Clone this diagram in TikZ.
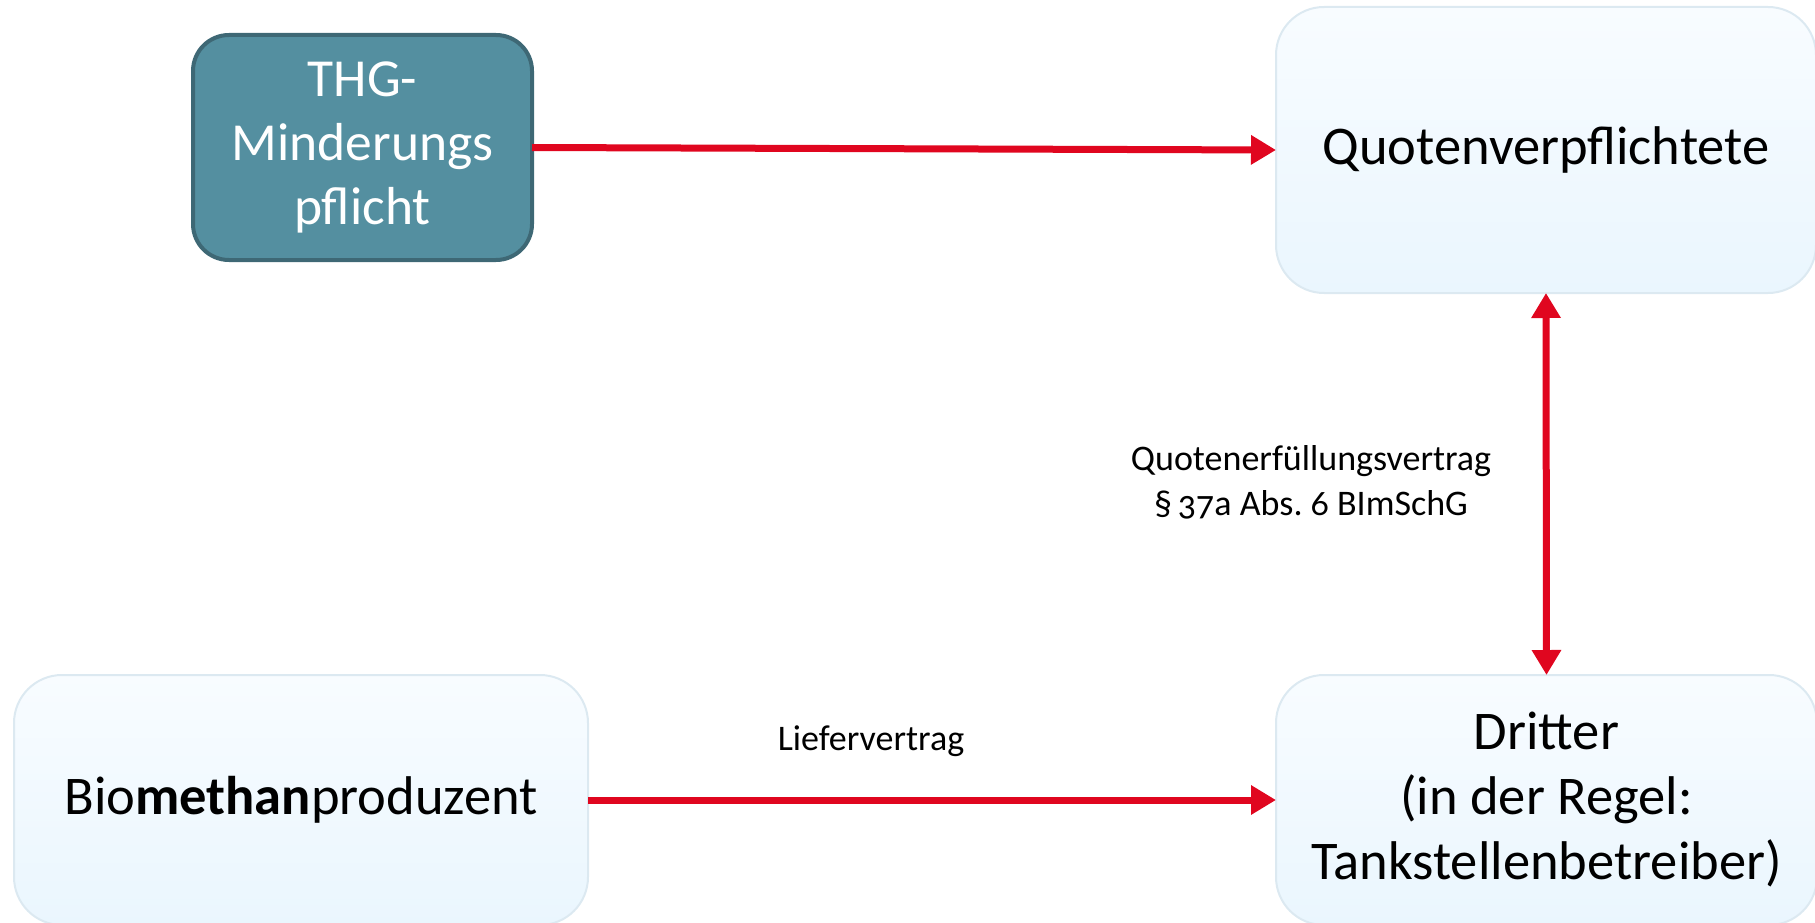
\documentclass[tikz,border=0pt]{standalone}
\usepackage{fontspec}
\setmainfont{Carlito}
\newfontfamily\labelfont[Numbers=OldStyle]{Carlito}
\usetikzlibrary{arrows.meta}
\frenchspacing

\definecolor{flowred}{HTML}{E0061F}
\definecolor{tealfill}{HTML}{548FA0}
\definecolor{tealedge}{HTML}{3E6875}
\definecolor{paleedge}{HTML}{DCE9F1}
\definecolor{paletop}{HTML}{F8FCFF}
\definecolor{palebottom}{HTML}{EAF6FE}

\tikzset{
  darkbox/.style={draw=tealedge, line width=4pt, fill=tealfill, rounded corners=36pt,
    inner sep=0pt, outer sep=0pt, align=center, text=white,
    font=\fontsize{53.5}{64}\selectfont},
  palebox/.style={draw=paleedge, line width=2pt, top color=paletop, bottom color=palebottom,
    rounded corners=48pt, inner sep=0pt, outer sep=0pt, align=center,
    font=\fontsize{54.5}{65}\selectfont},
  flow/.style={draw=flowred, line width=7pt, -{Triangle[length=25pt,width=28pt]}},
  twoway/.style={draw=flowred, line width=7pt,
    {Triangle[length=25pt,width=28pt]}-{Triangle[length=25pt,width=28pt]}},
  note/.style={inner sep=0pt, align=center, font=\labelfont\fontsize{36}{45}\selectfont}
}

\begin{document}
\begin{tikzpicture}[x=1pt, y=-1pt]
  \useasboundingbox (0,0) rectangle (1815,923);
  \clip (0,0) rectangle (1815,923);

  % boxes
  \node[darkbox, minimum width=339pt, minimum height=225pt] (thg) at (362.5,147.5)
    {THG-\\Minderungs\\pflicht};
  \node[palebox, minimum width=540pt, minimum height=286pt] (quote) at (1546,150)
    {Quotenverpflichtete};
  \node[palebox, minimum width=541pt, minimum height=250pt] (third) at (1546.5,800)
    {Dritter\\(in der Regel:\\Tankstellenbetreiber)};
  \node[palebox, minimum width=574pt, minimum height=250pt] (bio) at (301,800)
    {Bio\textbf{methan}produzent};

  % connectors
  \draw[flow] (thg.east) -- (quote.west);
  \draw[flow] (bio.east) -- (third.west);
  \draw[twoway] (quote.south) -- (third.north);

  % contract labels
  \node[note] (qlabel) at (1311,482)
    {Quotenerfüllungsvertrag\\\S\,37a Abs. 6 BImSchG};
  \node[note] (llabel) at (871,741) {Liefervertrag};
\end{tikzpicture}
\end{document}
